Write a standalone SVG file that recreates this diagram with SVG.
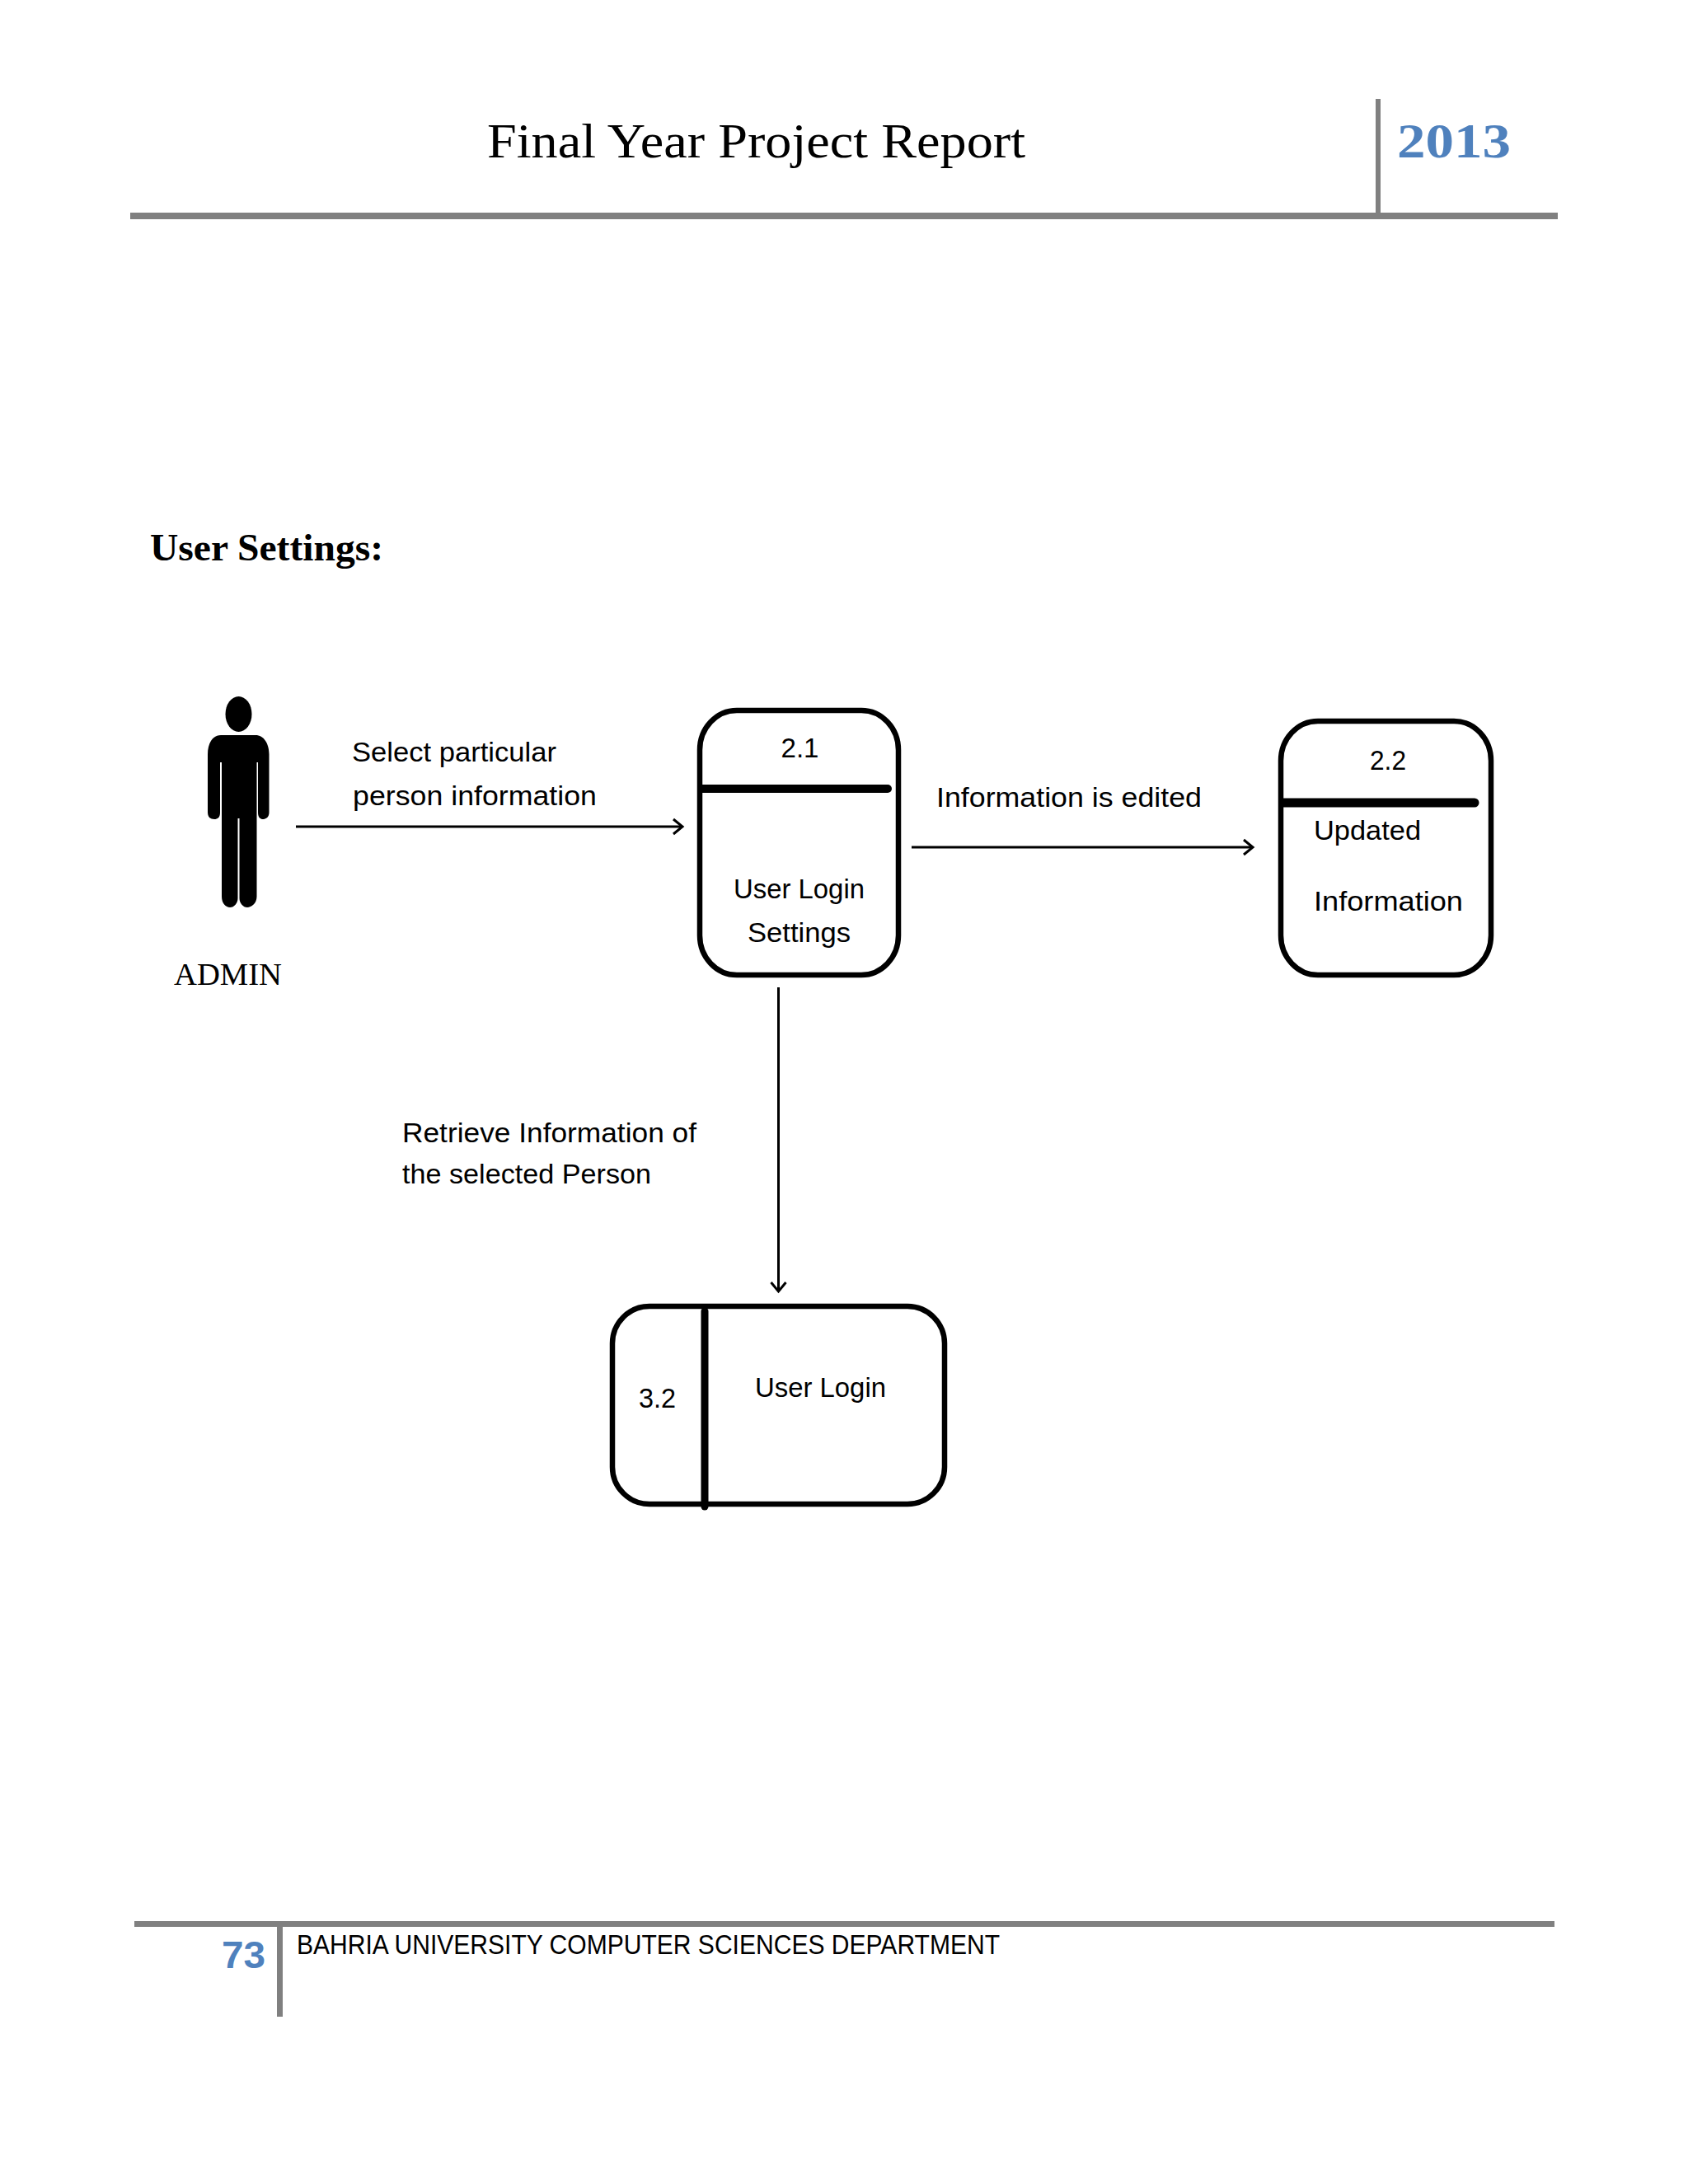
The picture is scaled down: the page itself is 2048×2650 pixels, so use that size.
<svg xmlns="http://www.w3.org/2000/svg" width="2048" height="2650" viewBox="0 0 2048 2650">
<style>
text{fill:#000}
.c{font-family:"Liberation Sans",Arial,sans-serif;font-size:34px}
.s{font-family:"Liberation Serif","Times New Roman",serif}
.blue{fill:#4f81bd;font-weight:bold}
.box{fill:#fff;stroke:#000;stroke-width:6.5}
.div{stroke:#000;stroke-linecap:round;fill:none}
.rule{fill:#808080}
.conn{stroke:#000;stroke-width:3;fill:none;marker-end:url(#open)}
</style>
<defs>
<marker id="open" markerUnits="userSpaceOnUse" markerWidth="20" markerHeight="24" refX="17" refY="12" orient="auto">
<path d="M6 3 L17 12 L6 21" fill="none" stroke="#000" stroke-width="3"/>
</marker>
</defs>
<rect width="2048" height="2650" fill="#fff"/>
<g id="header">
<rect class="rule" x="158" y="258" width="1732" height="8"/>
<rect class="rule" x="1669" y="120" width="6" height="140"/>
<text class="s" x="591" y="191" font-size="60" textLength="653" lengthAdjust="spacingAndGlyphs">Final Year Project Report</text>
<text class="s blue" x="1695" y="191" font-size="60" textLength="138" lengthAdjust="spacingAndGlyphs">2013</text>
</g>
<text class="s" x="182" y="680" font-size="47" font-weight="bold" textLength="283" lengthAdjust="spacingAndGlyphs">User Settings:</text>
<g id="connectors">
<line class="conn" x1="359" y1="1003" x2="828" y2="1003"/>
<line class="conn" x1="1106" y1="1028" x2="1520" y2="1028"/>
<line class="conn" x1="944.500" y1="1198" x2="944.500" y2="1567"/>
</g>
<g id="admin">
<ellipse cx="289.500" cy="866.500" rx="16" ry="21.500" fill="#000"/>
<path d="M268 892H310C320 892 326.500 902 326.500 915V986C326.500 992 322 994 319 994C316 994 313 992 313 986V925H311.500V1088C311.500 1096 305 1101 300 1101C295 1101 290.500 1096 290.500 1090V993H288.500V1090C288.500 1096 284 1101 279 1101C274 1101 269 1096 269 1088V925H267V986C267 992 264 994 260 994C256 994 252 992 252 986V915C252 902 258 892 268 892Z" fill="#000"/>
<text class="s" x="211" y="1195" font-size="38" textLength="131" lengthAdjust="spacingAndGlyphs">ADMIN</text>
</g>
<g id="label-select">
<text class="c" x="427" y="924" textLength="248" lengthAdjust="spacingAndGlyphs">Select particular</text>
<text class="c" x="428" y="977" textLength="296" lengthAdjust="spacingAndGlyphs">person information</text>
</g>
<g id="node-2-1">
<rect class="box" x="849" y="862" width="241" height="321" rx="45" ry="48"/>
<line class="div" x1="852" y1="957" x2="1077" y2="957" stroke-width="10"/>
<text class="c" x="947.500" y="919" textLength="46" lengthAdjust="spacingAndGlyphs">2.1</text>
<text class="c" x="890" y="1090" textLength="159" lengthAdjust="spacingAndGlyphs">User Login</text>
<text class="c" x="907" y="1143" textLength="125" lengthAdjust="spacingAndGlyphs">Settings</text>
</g>
<g id="label-edited">
<text class="c" x="1136" y="979" textLength="322" lengthAdjust="spacingAndGlyphs">Information is edited</text>
</g>
<g id="node-2-2">
<rect class="box" x="1554" y="875" width="255" height="308" rx="45" ry="48"/>
<line class="div" x1="1557" y1="974" x2="1789" y2="974" stroke-width="11"/>
<text class="c" x="1662" y="934" textLength="44" lengthAdjust="spacingAndGlyphs">2.2</text>
<text class="c" x="1594" y="1019" textLength="130" lengthAdjust="spacingAndGlyphs">Updated</text>
<text class="c" x="1594" y="1105" textLength="181" lengthAdjust="spacingAndGlyphs">Information</text>
</g>
<g id="label-retrieve">
<text class="c" x="488" y="1386" textLength="357" lengthAdjust="spacingAndGlyphs">Retrieve Information of</text>
<text class="c" x="488" y="1436" textLength="302" lengthAdjust="spacingAndGlyphs">the selected Person</text>
</g>
<g id="node-3-2">
<rect class="box" x="743" y="1585" width="403" height="240" rx="45" ry="45"/>
<line class="div" x1="855" y1="1591" x2="855" y2="1828" stroke-width="9"/>
<text class="c" x="775" y="1708" textLength="45" lengthAdjust="spacingAndGlyphs">3.2</text>
<text class="c" x="916" y="1695" textLength="159" lengthAdjust="spacingAndGlyphs">User Login</text>
</g>
<g id="footer">
<rect class="rule" x="163" y="2331" width="1723" height="7"/>
<rect class="rule" x="336" y="2336" width="7" height="111"/>
<text class="blue" x="269" y="2388" font-family="'Liberation Sans',Arial,sans-serif" font-size="46" textLength="53" lengthAdjust="spacingAndGlyphs">73</text>
<text class="c" x="360" y="2371" textLength="853" lengthAdjust="spacingAndGlyphs">BAHRIA UNIVERSITY COMPUTER SCIENCES DEPARTMENT</text>
</g>
</svg>
